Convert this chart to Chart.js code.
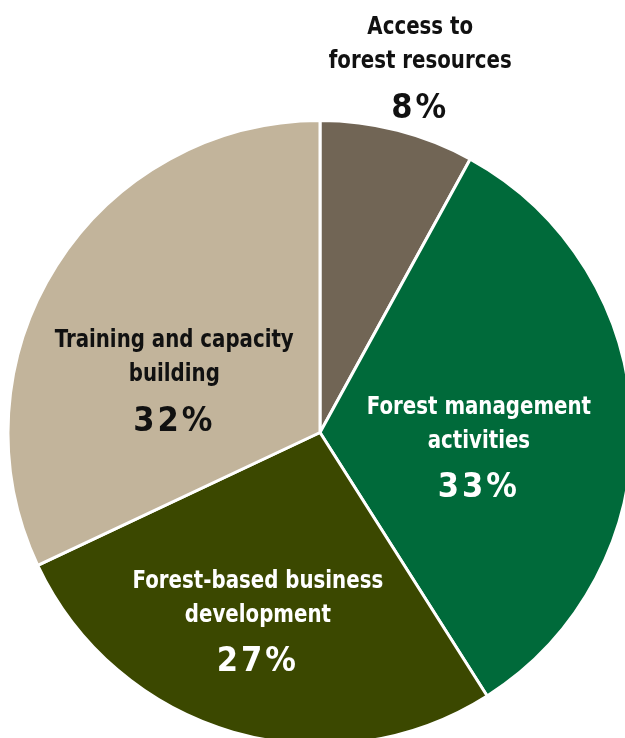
<!DOCTYPE html>
<html>
<head>
<meta charset="utf-8">
<script src="https://cdn.jsdelivr.net/npm/chart.js@4"></script>
<style>
  html, body { margin: 0; padding: 0; background: #fff; overflow: hidden; width: 625px; height: 738px; }
  canvas { display: block; }
</style>
</head>
<body>
<canvas id="pieChart" width="640" height="746"></canvas>
<script>
// categories and shares (%)
const categories = [
    ['Access to', 'forest resources'],
    ['Forest management', 'activities'],
    ['Forest-based business', 'development'],
    ['Training and capacity', 'building']
];
const shares = [8, 33, 27, 32];
const sliceColors = ['#716555', '#006a3a', '#3b4800', '#c2b49b'];
const textColors = ['#111111', '#ffffff', '#ffffff', '#111111'];

// label placement: fraction of radius along the mid angle + small nudge
const labelRadius = [1.24, 0.516, 0.61, 0.5];
const labelNudge = [[4, 4], [-2, 14], [-9, 0], [-14, 26]];

const FONT = '"DejaVu Sans Condensed", "DejaVu Sans", sans-serif';

// draw text squeezed horizontally so it looks like the narrow original face
function narrowText(ctx, text, x, y, sx) {
    ctx.save();
    ctx.translate(x, y);
    ctx.scale(sx, 1);
    ctx.fillText(text, 0, 0);
    ctx.restore();
}

const sliceLabels = {
    id: 'sliceLabels',
    afterDatasetsDraw(chart) {
        const ctx = chart.ctx;
        const meta = chart.getDatasetMeta(0);
        meta.data.forEach((arc, i) => {
            const p = arc.getProps(['x', 'y', 'startAngle', 'endAngle', 'outerRadius'], true);
            const mid = (p.startAngle + p.endAngle) / 2;
            const r = p.outerRadius * labelRadius[i];
            const x = p.x + Math.cos(mid) * r + labelNudge[i][0];
            const y = p.y + Math.sin(mid) * r + labelNudge[i][1];
            ctx.save();
            ctx.fillStyle = textColors[i];
            ctx.textAlign = 'center';
            ctx.textBaseline = 'middle';
            ctx.font = 'bold 25px ' + FONT;
            narrowText(ctx, categories[i][0], x, y - 34, 0.88);
            narrowText(ctx, categories[i][1], x, y, 0.88);
            ctx.font = 'bold 34px ' + FONT;
            ctx.letterSpacing = '3px';
            narrowText(ctx, shares[i] + '%', x, y + 47, 1);
            ctx.restore();
        });
    }
};

const ctx = document.getElementById('pieChart').getContext('2d');
const pieChart = new Chart(ctx, {
    type: 'pie',
    data: {
        labels: categories.map(c => c.join(' ')),
        datasets: [{
            data: shares,
            backgroundColor: sliceColors,
            borderColor: '#ffffff',
            borderWidth: 3
        }]
    },
    options: {
        responsive: false,
        animation: false,
        layout: { padding: { top: 119, left: 0, right: 0, bottom: 0 } },
        plugins: {
            legend: { display: false },
            tooltip: { enabled: false }
        }
    },
    plugins: [sliceLabels]
});
</script>
</body>
</html>
